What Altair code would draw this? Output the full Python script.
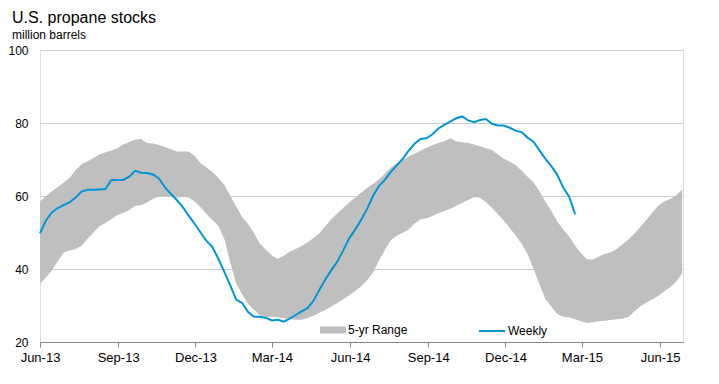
import altair as alt
import pandas as pd

# ---- data ----
start_date = "2013-06-01"

weekly_values = [
    49.8, 53.3, 55.5, 56.7, 57.5, 58.3, 59.6, 61.2, 61.7, 61.7,
    61.8, 61.9, 64.4, 64.4, 64.4, 65.3, 66.9, 66.4, 66.3, 65.9,
    64.8, 62.4, 60.6, 58.9, 57.0, 54.6, 52.4, 50.0, 47.7, 46.0,
    42.8, 39.2, 35.5, 31.6, 30.7, 28.2, 26.9, 26.9, 26.6, 25.9,
    26.1, 25.6, 26.4, 27.4, 28.4, 29.3, 31.3, 34.3, 37.2, 39.7,
    42.0, 45.1, 48.4, 50.8, 53.4, 56.4, 60.0, 62.7, 64.4, 66.6,
    68.4, 70.2, 72.4, 74.3, 75.6, 75.8, 76.9, 78.5, 79.5, 80.4,
    81.3, 81.8, 80.7, 80.2, 80.8, 81.1, 79.8, 79.3, 79.3, 78.7,
    77.9, 77.5, 76.0, 74.9, 72.5, 70.2, 68.2, 65.8, 62.3, 59.8,
    55.0,
]

range_upper = [
    58.5, 59.9, 61.3, 62.5, 63.7, 65.0, 67.1, 68.7, 69.5, 70.4,
    71.4, 72.0, 72.5, 73.1, 74.1, 74.8, 75.5, 75.6, 74.5, 74.4,
    74.0, 73.4, 72.8, 72.2, 72.2, 72.2, 71.0, 69.0, 67.8, 66.6,
    64.9, 63.1, 60.1, 57.1, 54.2, 52.3, 49.8, 46.9, 45.3, 43.7,
    42.8, 43.6, 44.7, 45.5, 46.3, 47.3, 48.5, 49.8, 51.8, 53.6,
    55.2, 56.8, 58.2, 59.6, 60.9, 62.2, 63.3, 64.5, 66.1, 67.8,
    68.9, 69.8, 70.8, 71.6, 72.4, 73.2, 73.9, 74.5, 75.0, 75.8,
    75.0, 74.7, 74.5, 74.1, 73.6, 73.1, 72.6, 71.4, 70.2, 69.4,
    68.5, 66.9, 65.3, 63.7, 61.3, 58.5, 55.9, 53.0, 50.8, 48.9,
    46.4, 44.3, 42.7, 42.6, 43.4, 44.1, 44.6, 45.5, 46.8, 48.1,
    49.8, 51.6, 53.5, 55.5, 57.4, 58.5, 59.2, 60.2, 61.8,
]

range_lower = [
    36.0, 37.7, 39.6, 42.2, 44.5, 45.1, 45.5, 46.4, 48.3, 50.0,
    51.7, 52.6, 53.6, 54.8, 55.4, 56.1, 57.3, 57.5, 58.3, 59.2,
    59.9, 59.9, 59.7, 59.5, 59.8, 59.6, 58.5, 56.9, 55.1, 53.4,
    51.8, 48.2, 41.7, 36.0, 33.1, 30.4, 28.8, 27.3, 26.7, 26.9,
    26.8, 26.5, 26.2, 26.1, 26.1, 26.6, 27.2, 28.0, 28.8, 29.7,
    30.7, 31.7, 32.8, 34.0, 35.2, 36.9, 39.0, 42.3, 45.2, 47.9,
    49.1, 49.9, 50.8, 52.5, 53.6, 53.9, 54.5, 55.3, 55.9, 56.5,
    57.3, 58.1, 58.9, 59.7, 59.5, 58.3, 56.7, 55.1, 53.2, 51.2,
    49.2, 46.9, 44.1, 40.1, 35.8, 31.8, 29.7, 27.7, 26.9, 26.7,
    26.2, 25.7, 25.2, 25.4, 25.7, 25.8, 26.0, 26.2, 26.4, 26.9,
    28.4, 29.8, 30.8, 31.7, 32.7, 33.9, 35.0, 36.6, 38.8,
]

x_tick_dates = [(2013, 6), (2013, 9), (2013, 12), (2014, 3), (2014, 6),
                (2014, 9), (2014, 12), (2015, 3), (2015, 6)]
y_ticks = [20, 40, 60, 80, 100]

series_names = ["5-yr Range", "Weekly"]
title_text = "U.S. propane stocks"
subtitle_text = "million barrels"

# ---- tables ----
def iso_weeks(n):
    d = pd.date_range(start_date, periods=n, freq="7D")
    return [x.strftime("%Y-%m-%dT00:00:00Z") for x in d]

band_df = pd.DataFrame({
    "date": iso_weeks(len(range_upper)),
    "upper": range_upper,
    "lower": range_lower,
    "series": series_names[0],
})
weekly_df = pd.DataFrame({
    "date": iso_weeks(len(weekly_values)),
    "value": weekly_values,
    "series": series_names[1],
})

FONT = "Liberation Sans"
GRAY = "#bfbfbf"
BLUE = "#0096d6"

x_scale = alt.Scale(
    type="utc",
    domain=[alt.DateTime(year=2013, month=6, date=1, utc=True),
            alt.DateTime(year=2015, month=6, date=28, utc=True)],
)
x_axis = alt.Axis(
    values=[alt.DateTime(year=y, month=m, date=1, utc=True) for y, m in x_tick_dates],
    format="%b-%y", title=None, grid=False,
    domainColor="#868686", tickColor="#868686", tickSize=5,
    labelFont=FONT, labelFontSize=13, labelColor="#000000", labelPadding=4,
    labelFlush=False, labelOverlap=False,
)
y_scale = alt.Scale(domain=[20, 100], nice=False, zero=False)
y_axis = alt.Axis(
    values=y_ticks, title=None, domain=False, ticks=False,
    grid=True, gridColor="#cccccc", gridWidth=1,
    labelFont=FONT, labelFontSize=12, labelColor="#000000", labelPadding=12,
)

band = alt.Chart(band_df).mark_area(opacity=1).encode(
    x=alt.X("date:T", scale=x_scale, axis=x_axis),
    y=alt.Y("lower:Q", scale=y_scale, axis=y_axis),
    y2="upper:Q",
    fill=alt.Fill(
        "series:N",
        scale=alt.Scale(domain=[series_names[0]], range=[GRAY]),
        legend=alt.Legend(
            orient="none", legendX=280, legendY=267, title=None,
            symbolType="M-1,-0.27H1V0.27H-1Z", symbolSize=676,
            symbolStrokeWidth=0, labelFont=FONT, labelFontSize=12,
            labelColor="#000000", labelOffset=2, padding=0,
        ),
    ),
)

line = alt.Chart(weekly_df).mark_line(strokeWidth=2).encode(
    x=alt.X("date:T", scale=x_scale, axis=x_axis),
    y=alt.Y("value:Q", scale=y_scale, axis=y_axis),
    stroke=alt.Stroke(
        "series:N",
        scale=alt.Scale(domain=[series_names[1]], range=[BLUE]),
        legend=alt.Legend(
            orient="none", legendX=438, legendY=267, title=None,
            symbolType="stroke", symbolSize=676, symbolStrokeWidth=2,
            labelFont=FONT, labelFontSize=12, labelColor="#000000",
            labelOffset=2, padding=0,
        ),
    ),
)

chart = alt.layer(band, line).resolve_scale(
    fill="independent", stroke="independent"
).properties(
    width=643,
    height=292,
    autosize=alt.AutoSizeParams(type="none"),
    padding={"left": 32, "top": 42, "right": 20, "bottom": 30},
    title=alt.Title(
        title_text, subtitle=subtitle_text, anchor="start", frame="group",
        dx=-28, offset=3, font=FONT, fontSize=16, fontWeight="normal",
        color="#000000", subtitleFont=FONT, subtitleFontSize=12,
        subtitleColor="#000000", subtitlePadding=4,
    ),
).configure_view(stroke=None).configure(background="white")

chart.save("out.html", embed_options={"renderer": "svg", "actions": False})
